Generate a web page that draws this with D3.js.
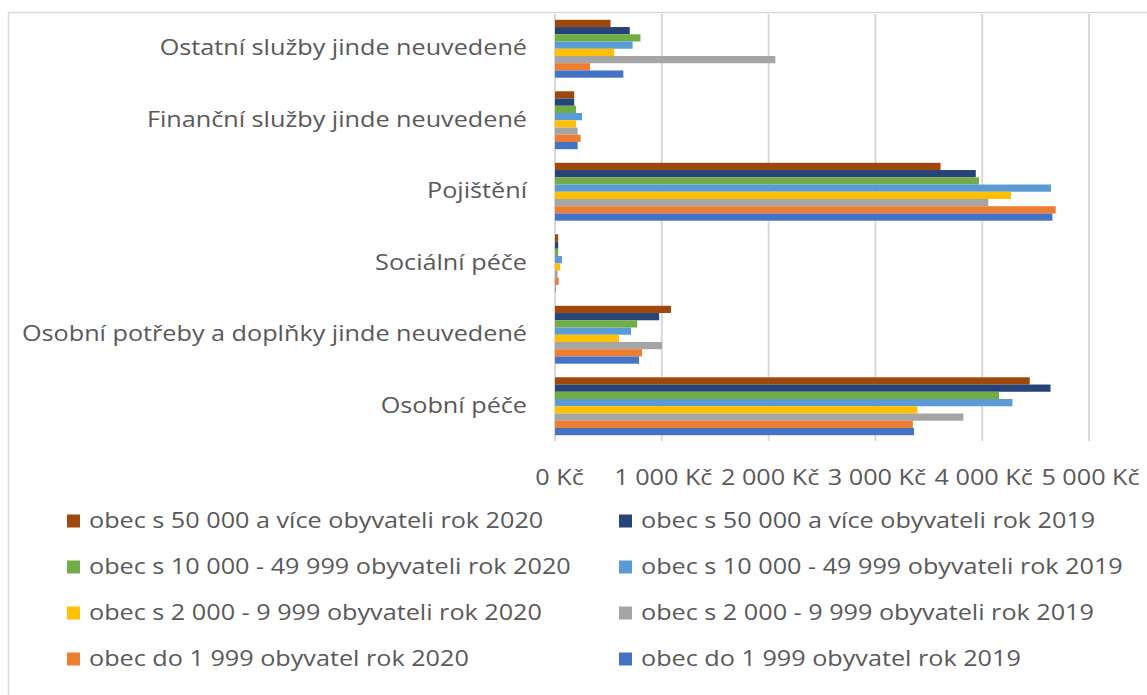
<!DOCTYPE html>
<html lang="cs">
<head>
<meta charset="utf-8">
<script src="https://cdn.jsdelivr.net/npm/d3@7"></script>
<style>
  html, body { margin: 0; padding: 0; background: #ffffff; }
  svg { display: block; }
  text { font-family: "Open Sans", "Noto Sans", sans-serif; fill: #595959; }
</style>
</head>
<body>
<svg id="chart" width="1147" height="695"></svg>
<script>
// Categories, top to bottom
const categories = [
  "Ostatní služby jinde neuvedené",
  "Finanční služby jinde neuvedené",
  "Pojištění",
  "Sociální péče",
  "Osobní potřeby a doplňky jinde neuvedené",
  "Osobní péče"
];

// Series names, in bar order within each group (top to bottom)
const seriesNames = [
  "obec s 50 000 a více obyvateli rok 2020",
  "obec s 50 000 a více obyvateli rok 2019",
  "obec s 10 000 - 49 999 obyvateli rok 2020",
  "obec s 10 000 - 49 999 obyvateli rok 2019",
  "obec s 2 000 - 9 999 obyvateli rok 2020",
  "obec s 2 000 - 9 999 obyvateli rok 2019",
  "obec do 1 999 obyvatel rok 2020",
  "obec do 1 999 obyvatel rok 2019"
];

const seriesColors = [
  "#9e480e", "#264478", "#70ad47", "#5b9bd5",
  "#ffc000", "#a5a5a5", "#ed7d31", "#4472c4"
];

// Values in Kč, one array per series, aligned with categories
const obec50k2020  = [520, 180, 3610,  30, 1086, 4445];
const obec50k2019  = [700, 180, 3940,  30,  975, 4640];
const obec10k2020  = [800, 197, 3970,  30,  770, 4158];
const obec10k2019  = [727, 253, 4644,  65,  712, 4283];
const obec2k2020   = [555, 197, 4270,  50,  600, 3394];
const obec2k2019   = [2063, 212, 4057, 25, 1002, 3824];
const obec1999_2020 = [328, 240, 4688, 35,  815, 3351];
const obec1999_2019 = [640, 212, 4657,  5,  787, 3362];

const seriesValues = [
  obec50k2020, obec50k2019, obec10k2020, obec10k2019,
  obec2k2020, obec2k2019, obec1999_2020, obec1999_2019
];

const xTicks = [0, 1000, 2000, 3000, 4000, 5000];

// Text is drawn slightly widened, as in the original chart styling
const TEXT_SIZE = 21;
const TEXT_STRETCH = 1.2;

const svg = d3.select("#chart");

// Outer chart frame
svg.append("rect")
  .attr("x", 8.5).attr("y", 12.5)
  .attr("width", 1160).attr("height", 700)
  .attr("fill", "#ffffff")
  .attr("stroke", "#d9d9d9")
  .attr("stroke-width", 1.5);

const cz = d3.formatLocale({
  decimal: ",", thousands: "\u00a0", grouping: [3], currency: ["", "\u00a0Kč"]
});
const fmt = v => cz.format(",.0f")(v) + "\u00a0Kč";

const x = d3.scaleLinear().domain([0, 5000]).range([555, 1089]);
const y = d3.scaleBand().domain(categories).range([13, 442])
  .paddingInner(0.19).paddingOuter(0.095);
const ys = d3.scaleBand().domain(seriesNames).range([0, y.bandwidth()]);

// Gridlines
svg.append("g")
  .selectAll("line")
  .data(xTicks)
  .join("line")
  .attr("x1", d => x(d)).attr("x2", d => x(d))
  .attr("y1", 14).attr("y2", 441)
  .attr("stroke", "#d9d9d9")
  .attr("stroke-width", 2);

// Bars
const groups = svg.append("g")
  .selectAll("g")
  .data(categories)
  .join("g")
  .attr("transform", d => `translate(0,${y(d)})`);

groups.selectAll("rect")
  .data((c, ci) => seriesNames.map((s, si) => ({ s, si, v: seriesValues[si][ci] })))
  .join("rect")
  .attr("x", x(0))
  .attr("y", d => ys(d.s))
  .attr("width", d => x(d.v) - x(0))
  .attr("height", ys.bandwidth())
  .attr("fill", d => seriesColors[d.si]);

// Category labels
const yAxis = d3.axisLeft(y).tickSize(0).tickPadding(0);
const yg = svg.append("g")
  .attr("transform", `translate(527,0) scale(${TEXT_STRETCH},1)`)
  .call(yAxis);
yg.select(".domain").remove();
yg.selectAll("text")
  .attr("font-size", TEXT_SIZE)
  .attr("fill", "#595959")
  .attr("font-family", null);

// Value axis labels
const xAxis = d3.axisBottom(x).tickValues(xTicks).tickFormat(fmt).tickSize(0).tickPadding(0);
const xg = svg.append("g").attr("transform", "translate(0,470)").call(xAxis);
xg.select(".domain").remove();
xg.selectAll("text")
  .attr("font-size", TEXT_SIZE)
  .attr("fill", "#595959")
  .attr("font-family", null)
  .attr("dy", "0.71em")
  .attr("transform", d => `translate(${d === 0 ? 4 : 1},0) scale(${TEXT_STRETCH},1)`);

// Legend: two columns, 2020 series on the left, 2019 on the right
const legend = svg.append("g");
const legItems = legend.selectAll("g")
  .data(seriesNames)
  .join("g")
  .attr("transform", (d, i) => {
    const col = i % 2, row = Math.floor(i / 2);
    return `translate(${col === 0 ? 67 : 619},${521 + row * 46})`;
  });
legItems.append("rect")
  .attr("x", 0).attr("y", -6.5)
  .attr("width", 13).attr("height", 13)
  .attr("fill", (d, i) => seriesColors[i]);
legItems.append("g")
  .attr("transform", `translate(22,0) scale(${TEXT_STRETCH},1)`)
  .append("text")
  .attr("dy", "0.35em")
  .attr("font-size", TEXT_SIZE)
  .text(d => d);
</script>
</body>
</html>
